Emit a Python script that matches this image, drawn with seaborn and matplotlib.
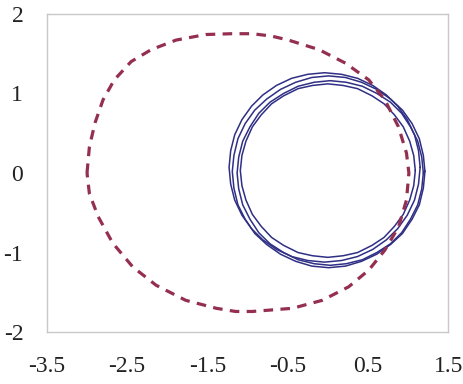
import matplotlib
matplotlib.use("Agg")
import matplotlib.pyplot as plt
import seaborn as sns

# dashed orbit
orbit_x = [-3.00, -2.97, -2.90, -2.80, -2.66, -2.45, -2.20, -1.89, -1.52, -1.20, -0.94,
           -0.70, -0.49, -0.11, 0.22, 0.51, 0.71, 0.88, 0.98, 1.01, 0.98, 0.88, 0.71,
           0.51, 0.26, -0.07, -0.44, -0.94, -1.15, -1.39, -1.77, -2.14, -2.43, -2.68,
           -2.86, -2.97, -3.00]
orbit_y = [0.00, 0.33, 0.63, 0.92, 1.17, 1.40, 1.55, 1.67, 1.74, 1.75, 1.75,
           1.72, 1.67, 1.55, 1.38, 1.17, 0.92, 0.58, 0.25, 0.00, -0.34, -0.68, -0.97,
           -1.22, -1.43, -1.60, -1.70, -1.74, -1.74, -1.70, -1.60, -1.41, -1.18, -0.88,
           -0.55, -0.26, 0.00]

# solid loops around the origin
loop1_x = [1.15, 1.13, 1.08, 0.99, 0.87, 0.73, 0.56, 0.37, 0.17, -0.04,
           -0.25, -0.45, -0.64, -0.81, -0.95, -1.07, -1.16, -1.21, -1.23,
           -1.21, -1.16, -1.07, -0.95, -0.81, -0.64, -0.45, -0.25, -0.04,
           0.17, 0.37, 0.56, 0.73, 0.87, 0.99, 1.08, 1.13, 1.15]
loop1_y = [0.07, 0.28, 0.48, 0.67, 0.84, 0.98, 1.10, 1.19, 1.24, 1.26,
           1.24, 1.19, 1.10, 0.98, 0.84, 0.67, 0.48, 0.28, 0.07,
           -0.14, -0.34, -0.53, -0.70, -0.84, -0.96, -1.05, -1.10, -1.12,
           -1.10, -1.05, -0.96, -0.84, -0.70, -0.53, -0.34, -0.14, 0.07]
loop2_x = [1.21, 1.19, 1.14, 1.05, 0.93, 0.78, 0.61, 0.42, 0.22, 0.01,
           -0.20, -0.40, -0.59, -0.76, -0.91, -1.03, -1.12, -1.17, -1.19,
           -1.17, -1.12, -1.03, -0.91, -0.76, -0.59, -0.40, -0.20, 0.01,
           0.22, 0.42, 0.61, 0.78, 0.93, 1.05, 1.14, 1.19, 1.21]
loop2_y = [0.02, 0.22, 0.43, 0.62, 0.79, 0.93, 1.05, 1.14, 1.20, 1.22,
           1.20, 1.14, 1.05, 0.93, 0.79, 0.62, 0.43, 0.22, 0.02,
           -0.19, -0.40, -0.58, -0.76, -0.90, -1.02, -1.11, -1.17, -1.19,
           -1.17, -1.11, -1.02, -0.90, -0.76, -0.58, -0.40, -0.19, 0.02]
loop3_x = [1.19, 1.17, 1.12, 1.03, 0.92, 0.78, 0.61, 0.43, 0.23, 0.03,
           -0.17, -0.37, -0.55, -0.72, -0.86, -0.97, -1.06, -1.11, -1.13,
           -1.11, -1.06, -0.97, -0.86, -0.72, -0.55, -0.37, -0.17, 0.03,
           0.23, 0.43, 0.61, 0.78, 0.92, 1.03, 1.12, 1.17, 1.19]
loop3_y = [0.00, 0.20, 0.40, 0.58, 0.75, 0.89, 1.00, 1.09, 1.14, 1.16,
           1.14, 1.09, 1.00, 0.89, 0.75, 0.58, 0.40, 0.20, 0.00,
           -0.20, -0.40, -0.58, -0.75, -0.89, -1.00, -1.09, -1.14, -1.16,
           -1.14, -1.09, -1.00, -0.89, -0.75, -0.58, -0.40, -0.20, 0.00]
loop4_x = [1.09, 1.07, 1.02, 0.94, 0.83, 0.70, 0.55, 0.37, 0.19, 0.00,
           -0.19, -0.37, -0.55, -0.70, -0.83, -0.94, -1.02, -1.07, -1.09,
           -1.07, -1.02, -0.94, -0.83, -0.70, -0.55, -0.37, -0.19, 0.00,
           0.19, 0.37, 0.55, 0.70, 0.83, 0.94, 1.02, 1.07, 1.09]
loop4_y = [0.03, 0.22, 0.40, 0.58, 0.73, 0.87, 0.97, 1.06, 1.10, 1.12,
           1.10, 1.06, 0.97, 0.87, 0.73, 0.58, 0.40, 0.22, 0.03,
           -0.16, -0.34, -0.52, -0.67, -0.81, -0.91, -1.00, -1.04, -1.06,
           -1.04, -1.00, -0.91, -0.81, -0.67, -0.52, -0.34, -0.16, 0.03]

x_ticks = [-3.5, -2.5, -1.5, -0.5, 0.5, 1.5]
y_ticks = [-2, -1, 0, 1, 2]

sns.set_style("white")
plt.rcParams["font.family"] = ["Liberation Serif", "DejaVu Serif"]

fig = plt.figure(figsize=(4.64, 3.84), dpi=100)
ax = fig.add_axes([0.101, 0.135, 0.865, 0.829])

for lx, ly in [(loop1_x, loop1_y), (loop2_x, loop2_y), (loop3_x, loop3_y), (loop4_x, loop4_y)]:
    sns.lineplot(x=lx, y=ly, sort=False, estimator=None, ax=ax,
                 color="#2f2f85", linewidth=1.1)

sns.lineplot(x=orbit_x, y=orbit_y, sort=False, estimator=None, ax=ax,
             color="#952f4f", linewidth=2.3)
ax.lines[-1].set_dashes((3, 2.3))

ax.set_xlim(-3.5, 1.5)
ax.set_ylim(-2, 2)
ax.set_xticks(x_ticks)
ax.set_xticklabels([f"{t:.1f}" for t in x_ticks])
ax.set_yticks(y_ticks)
ax.set_yticklabels([str(t) for t in y_ticks])

for s in ax.spines.values():
    s.set_color("#c8c8c8")
    s.set_linewidth(1.0)
ax.tick_params(axis="both", direction="out", length=5, width=1, color="#c8c8c8",
               labelsize=17, labelcolor="#222222")
ax.tick_params(axis="x", pad=12)
ax.tick_params(axis="y", pad=12)

fig.savefig("out.png", dpi=100)
